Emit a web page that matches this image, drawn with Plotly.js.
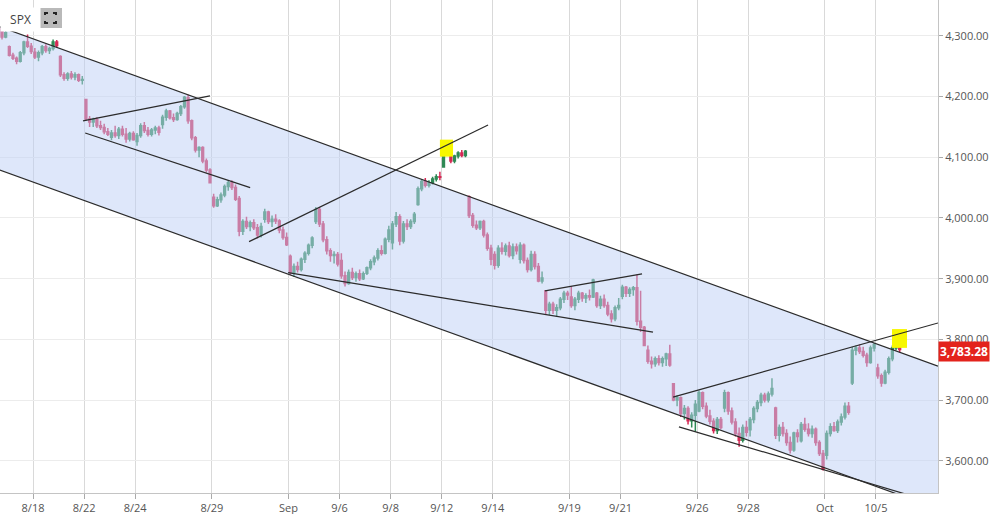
<!DOCTYPE html>
<html><head><meta charset="utf-8">
<script src="https://cdn.plot.ly/plotly-3.0.1.min.js"></script>
<style>html,body{margin:0;padding:0;background:#fff;}#chart{width:990px;height:514px;}</style>
</head><body><div id="chart"></div>
<script>
// trading days shown (8/16 only its last two hourly bars)
const days = ['8/16','8/17','8/18','8/19','8/22','8/23','8/24','8/25','8/26','8/29','8/30','8/31','9/1','9/2','9/6','9/7','9/8','9/9','9/12','9/13','9/14','9/15','9/16','9/19','9/20','9/21','9/22','9/23','9/26','9/27','9/28','9/29','9/30','10/3','10/4','10/5'];
const hours = ['09:30','10:30','11:30','12:30','13:30','14:30','15:30'];
const firstDayHours = ['14:30','15:30'];

const open = [
4312,4298,
4282,4268,4263,4258,4272,4290,4283,
4273,4265,4272,4282,4276,4279,4290,
4266,4236,4230,4237,4232,4236,4227,
4195,4163,4158,4162,4152,4149,4142,
4133,4140,4136,4146,4138,4130,4139,
4126,4136,4152,4144,4138,4145,4148,
4154,4166,4176,4165,4162,4172,4183,
4198,4160,4132,4112,4116,4094,4079,
4034,4020,4030,4038,4052,4058,4050,
4032,3978,3994,3986,3992,3984,3972,
3998,4010,3994,3998,3995,3980,3968,
3937,3910,3920,3915,3932,3942,3955,
3994,4014,3990,3964,3946,3938,3940,
3930,3905,3892,3910,3902,3908,3900,
3909,3918,3928,3934,3946,3942,3965,
3959,3990,4002,3962,3990,3986,3994,
4022,4048,4060,4054,4058,4064,4068,
4084,4114,4106,4094,4102,4107,4103,
4035,4004,3988,3984,3994,3972,3950,
3940,3922,3950,3945,3954,3938,3952,
3932,3955,3930,3915,3940,3920,3896,
3880,3848,3858,3848,3852,3866,3876,
3870,3856,3866,3876,3868,3872,3870,
3876,3856,3866,3856,3842,3834,3852,
3871,3886,3876,3882,3885,3830,3820,
3782,3764,3760,3768,3762,3768,3776,
3727,3700,3704,3678,3686,3666,3675,
3682,3712,3690,3674,3665,3650,3668,
3687,3712,3682,3664,3645,3634,3655,
3651,3668,3686,3696,3708,3700,3710,
3687,3642,3655,3645,3630,3618,3646,
3633,3660,3652,3645,3652,3630,3612,
3609,3645,3656,3650,3664,3672,3690,
3728,3782,3786,3780,3774,3762,3786,
3753,3740,3728,3746,3768,3786,3802];

const high = [
4318,4322,
4284,4272,4266,4275,4292,4302,4288,
4280,4276,4285,4286,4282,4294,4293,
4268,4240,4240,4242,4240,4238,4234,
4196,4168,4165,4166,4160,4155,4148,
4145,4152,4150,4152,4148,4142,4143,
4140,4156,4158,4150,4148,4152,4152,
4170,4180,4178,4172,4175,4186,4201,
4203,4162,4135,4118,4118,4098,4082,
4040,4035,4042,4055,4062,4062,4055,
4036,3998,4002,3996,3998,3990,3992,
4015,4012,4004,4006,3998,3986,3976,
3940,3925,3928,3935,3945,3958,3970,
4018,4018,3995,3970,3950,3945,3944,
3942,3912,3915,3918,3912,3915,3912,
3920,3932,3938,3950,3955,3968,3987,
3995,4010,4006,3995,3998,3998,4010,
4052,4064,4066,4062,4068,4072,4076,
4118,4119,4110,4104,4110,4112,4112,
4037,4008,3996,3996,3997,3976,3956,
3945,3955,3960,3958,3961,3958,3958,
3960,3958,3935,3946,3945,3926,3912,
3880,3862,3862,3858,3870,3880,3880,
3888,3870,3880,3878,3876,3882,3900,
3878,3872,3874,3862,3848,3856,3868,
3890,3888,3886,3888,3907,3880,3822,
3790,3772,3772,3774,3772,3778,3791,
3728,3708,3706,3692,3690,3680,3700,
3716,3714,3696,3684,3670,3672,3672,
3717,3714,3688,3670,3655,3660,3666,
3672,3690,3700,3712,3712,3714,3736,
3689,3660,3664,3652,3640,3648,3652,
3664,3671,3662,3658,3655,3634,3618,
3650,3662,3664,3668,3678,3696,3697,
3788,3790,3792,3788,3778,3790,3794,
3760,3744,3750,3772,3790,3807,3806];

const low = [
4294,4296,
4266,4260,4253,4256,4268,4280,4270,
4262,4258,4268,4272,4270,4276,4280,
4232,4226,4226,4228,4227,4224,4220,
4160,4150,4150,4148,4145,4138,4135,
4128,4132,4130,4134,4124,4126,4127,
4119,4132,4140,4134,4134,4138,4136,
4147,4160,4162,4158,4160,4168,4180,
4155,4128,4108,4100,4090,4075,4057,
4017,4018,4025,4034,4045,4046,4028,
3970,3972,3982,3978,3980,3966,3968,
3992,3990,3985,3990,3975,3964,3954,
3906,3903,3910,3912,3926,3938,3950,
3990,3985,3960,3940,3928,3925,3920,
3900,3887,3890,3898,3895,3896,3898,
3906,3914,3922,3930,3938,3940,3960,
3948,3985,3955,3958,3980,3982,3990,
4020,4044,4050,4050,4055,4060,4062,
4083,4102,4090,4090,4098,4100,4100,
4000,3984,3980,3980,3968,3946,3922,
3915,3918,3940,3938,3935,3932,3940,
3925,3925,3910,3912,3915,3894,3892,
3842,3840,3842,3837,3848,3860,3865,
3852,3848,3860,3862,3860,3864,3868,
3852,3850,3852,3838,3828,3830,3848,
3866,3870,3870,3872,3823,3812,3789,
3760,3752,3755,3757,3755,3756,3755,
3698,3690,3672,3668,3660,3655,3648,
3680,3685,3670,3660,3645,3644,3652,
3680,3676,3660,3640,3623,3630,3640,
3640,3662,3680,3690,3696,3696,3706,
3636,3632,3640,3625,3612,3615,3630,
3630,3648,3640,3638,3625,3608,3584,
3602,3640,3648,3646,3658,3668,3676,
3725,3774,3776,3770,3755,3760,3780,
3735,3722,3726,3742,3764,3782,3778];

const close = [
4298,4305,
4268,4263,4258,4272,4290,4283,4274,
4265,4272,4282,4276,4279,4290,4284,
4236,4230,4237,4232,4236,4227,4228,
4163,4158,4162,4152,4149,4142,4138,
4140,4136,4146,4138,4130,4139,4129,
4136,4152,4144,4138,4145,4148,4141,
4166,4176,4165,4162,4172,4183,4199,
4160,4132,4112,4116,4094,4079,4058,
4020,4030,4038,4052,4058,4050,4031,
3978,3994,3986,3992,3984,3972,3986,
4010,3994,3998,3995,3980,3968,3956,
3910,3920,3915,3932,3942,3955,3967,
4014,3990,3964,3946,3938,3940,3924,
3905,3892,3910,3902,3908,3900,3908,
3918,3928,3934,3946,3942,3965,3980,
3990,4002,3962,3990,3986,3994,4006,
4048,4060,4054,4058,4064,4068,4067,
4114,4106,4094,4102,4107,4103,4110,
4004,3988,3984,3994,3972,3950,3932,
3922,3950,3945,3954,3938,3952,3946,
3955,3930,3915,3940,3920,3896,3901,
3848,3858,3848,3852,3866,3876,3873,
3856,3866,3876,3868,3872,3870,3898,
3856,3866,3856,3842,3834,3852,3856,
3886,3876,3882,3885,3830,3820,3790,
3764,3760,3768,3762,3768,3776,3758,
3700,3704,3678,3686,3666,3675,3693,
3712,3690,3674,3665,3650,3668,3655,
3712,3682,3664,3645,3634,3655,3647,
3668,3686,3696,3708,3700,3710,3719,
3642,3655,3645,3630,3618,3646,3640,
3660,3652,3645,3652,3630,3612,3586,
3645,3656,3650,3664,3672,3690,3680,
3782,3786,3780,3774,3762,3786,3791,
3740,3728,3746,3768,3786,3802,3783.28];

const tickDays = ['8/18','8/22','8/24','8/29','9/1','9/6','9/8','9/12','9/14','9/19','9/21','9/26','9/28','10/3','10/5'];
const tickText = ['8/18','8/22','8/24','8/29','Sep','9/6','9/8','9/12','9/14','9/19','9/21','9/26','9/28','Oct','10/5'];

// drawn lines, in [bar position, price] pairs: x0, p0, x1, p1
const channelTop = [-0.6, 4315, 256.5, 3756];
const channelBottom = [-0.6, 4079, 256.5, 3521];
const trendLines = [
  [22.2, 4160, 57.0, 4201],
  [22.8, 4140, 68.0, 4050],
  [67.7, 3961, 133.2, 4153],
  [78.4, 3910, 178.4, 3812],
  [148.8, 3880, 175.4, 3908],
  [183.9, 3705, 256.5, 3827],
  [185.5, 3656, 250.0, 3541]
];
// highlighted boxes: x0, x1, p0, p1
const highlights = [
  [120.0, 123.6, 4101, 4129],
  [243.9, 248.0, 3786, 3817]
];
const lastPrice = 3783.28;

// build bar labels / positions
const times = [];
const dayStart = {};
days.forEach((d, k) => {
  const hs = k === 0 ? firstDayHours : hours;
  dayStart[d] = times.length;
  hs.forEach(h => times.push(d + ' ' + h));
});
const xs = times.map((_, i) => i);
const tickVals = tickDays.map(d => dayStart[d] - 0.5);

const lineColor = '#2b2b2b';
const upColor = '#2f8a55', downColor = '#d42a55';
const traces = [];
traces.push({
  type: 'scatter', mode: 'lines', hoverinfo: 'skip', showlegend: false,
  x: [channelTop[0], channelTop[2], channelBottom[2], channelBottom[0], channelTop[0]],
  y: [channelTop[1], channelTop[3], channelBottom[3], channelBottom[1], channelTop[1]],
  fill: 'toself', fillcolor: 'rgba(190,207,245,0.5)', line: {width: 0}
});
highlights.forEach(h => traces.push({
  type: 'scatter', mode: 'lines', hoverinfo: 'skip', showlegend: false,
  x: [h[0], h[1], h[1], h[0], h[0]], y: [h[2], h[2], h[3], h[3], h[2]],
  fill: 'toself', fillcolor: '#f7f700', line: {width: 0}
}));
traces.push({
  type: 'candlestick', x: xs, open: open, high: high, low: low, close: close,
  text: times, hoverinfo: 'text', showlegend: false,
  increasing: {line: {color: upColor, width: 1.5}, fillcolor: upColor},
  decreasing: {line: {color: downColor, width: 1.5}, fillcolor: downColor},
  whiskerwidth: 0
});
[channelTop, channelBottom].concat(trendLines).forEach(l => traces.push({
  type: 'scatter', mode: 'lines', hoverinfo: 'skip', showlegend: false,
  x: [l[0], l[2]], y: [l[1], l[3]], line: {color: lineColor, width: 1.2}
}));

const W = 938, H = 493;
const px = v => v / W, py = v => 1 - v / H;
const layout = {
  width: 990, height: 514,
  margin: {l: 0, r: 52, t: 0, b: 21, pad: 0},
  paper_bgcolor: '#ffffff', plot_bgcolor: '#ffffff',
  font: {family: 'Open Sans, Noto Sans, sans-serif', size: 11, color: '#555'},
  showlegend: false,
  xaxis: {
    range: [-0.55, 256.5], rangeslider: {visible: false},
    tickmode: 'array', tickvals: tickVals, ticktext: tickText,
    showgrid: true, gridcolor: '#d9d9d9', gridwidth: 1,
    ticks: 'outside', ticklen: 5, tickcolor: '#aaa',
    showline: true, linecolor: '#c4c4c4', linewidth: 1,
    zeroline: false, tickfont: {size: 11, color: '#555'}, fixedrange: true
  },
  yaxis: {
    side: 'right', range: [3547, 4359], dtick: 100, tick0: 3600,
    tickformat: ',.2f', showgrid: true, gridcolor: '#ececec',
    ticks: 'outside', ticklen: 4, tickcolor: '#aaa',
    showline: true, linecolor: '#c4c4c4', linewidth: 1,
    zeroline: false, tickfont: {size: 11, color: '#555'}, fixedrange: true
  },
  shapes: [
    {type: 'rect', xref: 'paper', yref: 'paper', x0: px(39), x1: px(62), y0: py(28), y1: py(8),
     fillcolor: '#b9b9b9', line: {width: 0}},
    {type: 'path', xref: 'paper', yref: 'paper', line: {color: '#222', width: 2},
     path: `M${px(45)},${py(15)} L${px(45)},${py(13)} L${px(48)},${py(13)} M${px(53)},${py(13)} L${px(56)},${py(13)} L${px(56)},${py(15)} M${px(56)},${py(21)} L${px(56)},${py(23)} L${px(53)},${py(23)} M${px(48)},${py(23)} L${px(45)},${py(23)} L${px(45)},${py(21)}`}
  ],
  annotations: [
    {xref: 'paper', yref: 'paper', x: 0, y: py(7), xanchor: 'left', yanchor: 'top',
     text: 'SPX', showarrow: false, bgcolor: '#ffffff', borderpad: 4,
     font: {size: 12, color: '#444'}, width: 31, height: 15},
    {xref: 'paper', yref: 'y', x: 1, y: lastPrice, xanchor: 'left', yanchor: 'middle',
     yshift: -2, text: '<b>3,783.28</b>', showarrow: false, bgcolor: '#e3231c', borderpad: 1,
     font: {size: 12, color: '#ffffff'}, width: 48}
  ]
};
Plotly.newPlot('chart', traces, layout, {displayModeBar: false, staticPlot: true});
</script></body></html>
